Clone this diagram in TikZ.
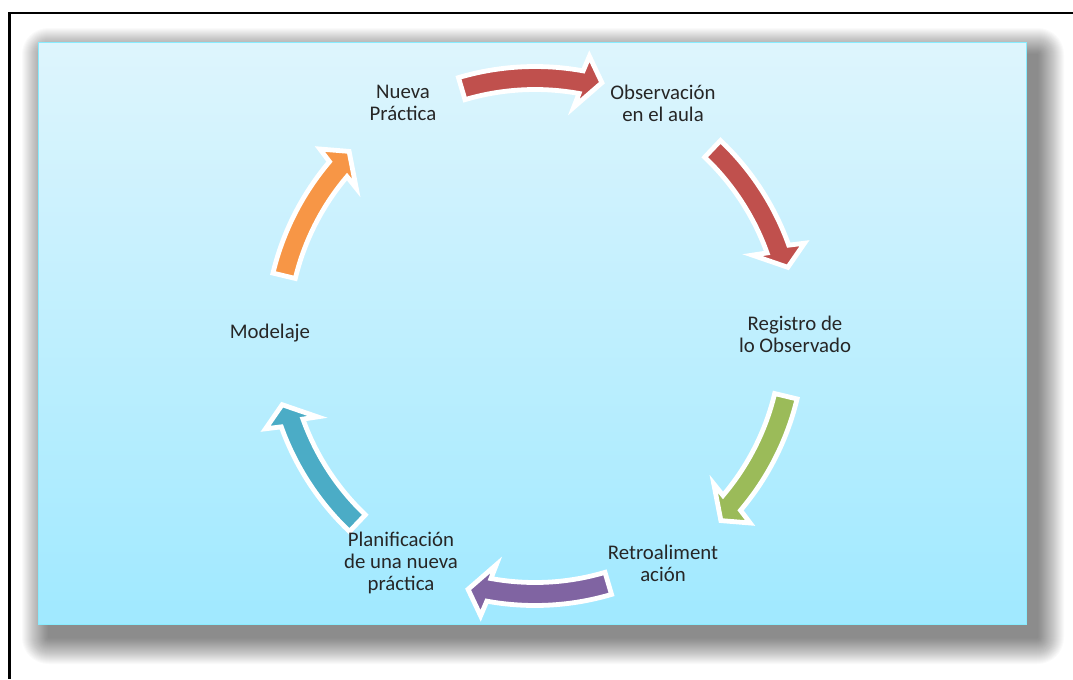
\documentclass[tikz,border=0pt]{standalone}
\usepackage{fontspec}
\setmainfont{Carlito}
\definecolor{arrred}{HTML}{C0504D}
\definecolor{arrgreen}{HTML}{9BBB59}
\definecolor{arrpurple}{HTML}{8064A2}
\definecolor{arrteal}{HTML}{4BACC6}
\definecolor{arrorange}{HTML}{F79646}
\definecolor{paneltop}{HTML}{DEF5FD}
\definecolor{panelbot}{HTML}{A0E9FF}
\definecolor{txt}{HTML}{262626}
\tikzset{
  lbl/.style={align=center, text=txt, inner sep=0pt, font=\fontsize{14.8}{15.6}\selectfont},
  cyc/.style={draw=white, line width=0.12cm, line join=miter},
}
\begin{document}
\begin{tikzpicture}[x=0.025cm, y=-0.025cm]
\useasboundingbox (0,0) rectangle (1073,679);
\fill[white] (0,0) rectangle (1073,679);
% outer frame
\draw[black, line width=0.05cm] (1073,13) -- (9.5,13) -- (9.5,679);
% soft shadow of the panel
\foreach \i in {26,25,...,0} {
  \pgfmathsetmacro\rc{\i*0.025+0.01}
  \fill[black, opacity=0.02, rounded corners=\rc cm] (48-\i,54-\i) rectangle (1038+\i,638+\i);
}
% panel
\path[top color=paneltop, bottom color=panelbot, draw=panelbot!85!cyan, line width=0.02cm]
  (38,42) rectangle (1026,624);
% arrows
\begin{scope}[shift={(535,336)}]
\def\R{258}
\foreach \c/\col in {-90/arrred, -30/arrred, 30/arrgreen, 90/arrpurple, 150/arrteal, 210/arrorange} {
  \pgfmathsetmacro\aa{\c-16.5}
  \pgfmathsetmacro\ab{\c+10.3}
  \pgfmathsetmacro\abo{\c+11}
  \pgfmathsetmacro\abi{\c+9.6}
  \pgfmathsetmacro\at{\c+14.8}
  \pgfmathsetmacro\Ro{\R+11.5}
  \pgfmathsetmacro\Ri{\R-11.5}
  \pgfmathsetmacro\Rho{\R+27}
  \pgfmathsetmacro\Rhi{\R-26}
  \pgfmathsetmacro\Rt{\R+4}
  \filldraw[cyc, fill=\col]
    (\aa:\Ro) arc[start angle=\aa, end angle=\ab, radius=\Ro]
    -- (\abo:\Rho) -- (\at:\Rt) -- (\abi:\Rhi) -- (\ab:\Ri)
    arc[start angle=\ab, end angle=\aa, radius=\Ri] -- cycle;
}
\end{scope}
% labels
\node[lbl] (np) at (403,103) {Nueva\\Práctica};
\node[lbl] (oa) at (663,103) {Observación\\en el aula};
\node[lbl] (ro) at (795,334) {Registro de\\lo Observado};
\node[lbl] (re) at (663,563) {Retroaliment\\ación};
\node[lbl] (pl) at (401,563) {Planificación\\de una nueva\\práctica};
\node[lbl] (mo) at (270,333) {Modelaje};
\end{tikzpicture}
\end{document}
